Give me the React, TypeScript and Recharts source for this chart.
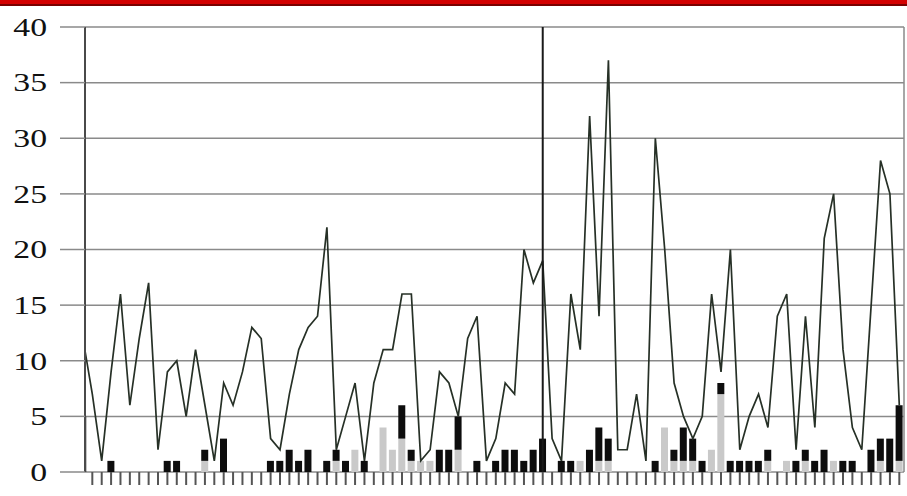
import React from "react";
import {
  ComposedChart,
  Bar,
  Line,
  XAxis,
  YAxis,
  CartesianGrid,
  ReferenceLine,
} from "recharts";

// one entry per day
const lineValues = [
  12, 7, 1, 9, 16, 6, 12, 17, 2, 9,
  10, 5, 11, 6, 1, 8, 6, 9, 13, 12,
  3, 2, 7, 11, 13, 14, 22, 2, 5, 8,
  1, 8, 11, 11, 16, 16, 1, 2, 9, 8,
  5, 12, 14, 1, 3, 8, 7, 20, 17, 19,
  3, 1, 16, 11, 32, 14, 37, 2, 2, 7,
  1, 30, 20, 8, 5, 3, 5, 16, 9, 20,
  2, 5, 7, 4, 14, 16, 2, 14, 4, 21,
  25, 11, 4, 2, 15, 28, 25, 6,
];

const grayValues = [
  0, 0, 0, 0, 0, 0, 0, 0, 0, 0,
  0, 0, 0, 1, 0, 0, 0, 0, 0, 0,
  0, 0, 0, 0, 0, 0, 0, 1, 0, 2,
  0, 0, 4, 2, 3, 1, 1, 1, 0, 0,
  2, 0, 0, 0, 0, 0, 0, 0, 0, 0,
  0, 0, 0, 1, 0, 1, 1, 0, 0, 0,
  0, 0, 4, 1, 1, 1, 0, 2, 7, 0,
  0, 0, 0, 1, 0, 1, 0, 1, 0, 0,
  1, 0, 0, 0, 0, 1, 0, 1,
];

const blackValues = [
  5, 0, 0, 1, 0, 0, 0, 0, 0, 1,
  1, 0, 0, 1, 0, 3, 0, 0, 0, 0,
  1, 1, 2, 1, 2, 0, 1, 1, 1, 0,
  1, 0, 0, 0, 3, 1, 0, 0, 2, 2,
  3, 0, 1, 0, 1, 2, 2, 1, 2, 3,
  0, 1, 1, 0, 2, 3, 2, 0, 0, 0,
  0, 1, 0, 1, 3, 2, 1, 0, 1, 1,
  1, 1, 1, 1, 0, 0, 1, 1, 1, 2,
  0, 1, 1, 0, 2, 2, 3, 5,
];

const categories = lineValues.map((_, i) => i);
const yTicks = [0, 5, 10, 15, 20, 25, 30, 35, 40];
const spikeAt = 49; // the vertical marker line

const data = categories.map((i) => ({
  i,
  line: lineValues[i],
  gray: grayValues[i],
  black: blackValues[i],
}));

const YTick = ({ x, y, payload }: any) => (
  <text
    x={0}
    y={0}
    dy="0.35em"
    transform={`translate(${x},${y}) scale(1.35,1)`}
    textAnchor="end"
    fontFamily="'Liberation Serif', 'DejaVu Serif', serif"
    fontSize={25}
    fill="#111"
  >
    {payload.value}
  </text>
);

// x ticks have marks but no labels
const NoLabel = () => <g />;

export default function App() {
  return (
    <div style={{ position: "absolute", left: 0, top: 0, width: 907, height: 496, background: "#fff" }}>
      <div style={{ position: "absolute", left: 0, top: 0, width: 907, height: 4, background: "#d40000", borderBottom: "2px solid #7a0000" }} />
      <ComposedChart
        width={907}
        height={496}
        data={data}
        margin={{ top: 27, right: 0, bottom: 0, left: 0 }}
        barGap={0}
      >
        <CartesianGrid vertical={false} stroke="#8a8a8a" strokeWidth={1.5} />
        <XAxis
          type="number"
          dataKey="i"
          domain={[0.22, 87.5]}
          allowDataOverflow
          ticks={categories.slice(1)}
          interval={0}
          tick={<NoLabel />}
          tickLine={{ stroke: "#555", strokeWidth: 2 }}
          tickSize={13}
          axisLine={false}
          height={24}
        />
        <YAxis
          domain={[0, 40]}
          ticks={yTicks}
          interval={0}
          width={85}
          tick={<YTick />}
          tickSize={25}
          tickMargin={13}
          tickLine={{ stroke: "#8a8a8a", strokeWidth: 1.5 }}
          axisLine={{ stroke: "#4a4a4a", strokeWidth: 2 }}
        />
        <YAxis
          yAxisId="right"
          orientation="right"
          domain={[0, 40]}
          width={3}
          tick={false}
          tickLine={false}
          axisLine={{ stroke: "#8a8a8a", strokeWidth: 1.5 }}
        />
        <Bar dataKey="gray" stackId="a" fill="#c9c9c9" barSize={7} isAnimationActive={false} />
        <Bar dataKey="black" stackId="a" fill="#0d0d0d" barSize={7} isAnimationActive={false} />
        <Line
          type="linear"
          dataKey="line"
          stroke="#263026"
          strokeWidth={1.7}
          dot={false}
          isAnimationActive={false}
        />
        <ReferenceLine x={spikeAt} stroke="#1a1a1a" strokeWidth={2} />
      </ComposedChart>
    </div>
  );
}
